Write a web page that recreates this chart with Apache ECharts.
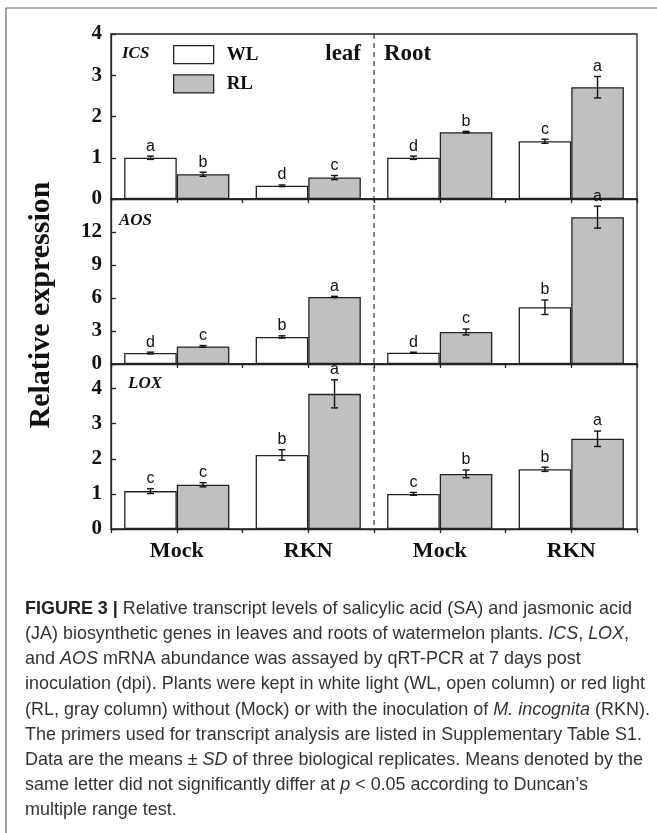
<!DOCTYPE html>
<html>
<head>
<meta charset="utf-8">
<script src="https://cdn.jsdelivr.net/npm/echarts@6/dist/echarts.min.js"></script>
<style>
  html, body { margin: 0; padding: 0; background: #fff; }
  #main { width: 657px; height: 833px; }
</style>
</head>
<body>
<div id="main"></div>
<script>
// groups on the x axis (leaf: Mock, RKN | root: Mock, RKN)
const categories = ["Mock", "RKN", "Mock", "RKN"];

// ICS
const icsWL = [1.0, 0.32, 1.0, 1.4];
const icsWLErr = [0.04, 0.02, 0.04, 0.05];
const icsRL = [0.6, 0.52, 1.62, 2.71];
const icsRLErr = [0.05, 0.05, 0.02, 0.26];
const icsWLLetters = ["a", "d", "d", "c"];
const icsRLLetters = ["b", "c", "b", "a"];

// AOS
const aosWL = [1.0, 2.46, 1.02, 5.16];
const aosWLErr = [0.08, 0.1, 0.05, 0.66];
const aosRL = [1.6, 6.1, 2.91, 13.35];
const aosRLErr = [0.08, 0.05, 0.27, 1.0];
const aosWLLetters = ["d", "b", "d", "b"];
const aosRLLetters = ["c", "a", "c", "a"];

// LOX
const loxWL = [1.08, 2.11, 1.0, 1.7];
const loxWLErr = [0.07, 0.15, 0.04, 0.06];
const loxRL = [1.26, 3.85, 1.57, 2.57];
const loxRLErr = [0.06, 0.4, 0.11, 0.22];
const loxWLLetters = ["c", "b", "c", "b"];
const loxRLLetters = ["c", "a", "b", "a"];

// y axis ranges per panel
const yMax = [4, 15, 4.7];
const yStep = [1, 3, 1];
const panelNames = ["ICS", "AOS", "LOX"];

const SERIF = "'Liberation Serif', 'Times New Roman', serif";
const SANS = "'Liberation Sans', Arial, sans-serif";
const CAP = "'Liberation Sans', Arial, sans-serif";
const INK = "#222";

var chartDom = document.getElementById("main");
var myChart = echarts.init(chartDom);

const gridLeft = 111;
const gridRight = 20;
const gridTops = [34, 199, 364];
const gridH = 165;
const plotW = 657 - gridLeft - gridRight;

const panels = [
  { wl: icsWL, wle: icsWLErr, rl: icsRL, rle: icsRLErr, wlL: icsWLLetters, rlL: icsRLLetters },
  { wl: aosWL, wle: aosWLErr, rl: aosRL, rle: aosRLErr, wlL: aosWLLetters, rlL: aosRLLetters },
  { wl: loxWL, wle: loxWLErr, rl: loxRL, rle: loxRLErr, wlL: loxWLLetters, rlL: loxRLLetters },
];

const grids = [];
const xAxes = [];
const yAxes = [];
const series = [];

// error bar + letter drawn on top of each bar
function errSeries(p, vals, errs, letters, side) {
  return {
    type: "custom",
    xAxisIndex: p * 2,
    yAxisIndex: p,
    z: 5,
    silent: true,
    data: vals.map((v, i) => [i, v, errs[i]]),
    renderItem: function (params, api) {
      const x = api.value(0);
      const v = api.value(1);
      const e = api.value(2);
      const cw = api.size([1, 0])[0];
      const cx = api.coord([x, v])[0] + side * cw * 0.2;
      const top = api.coord([x, v + e])[1];
      const bot = api.coord([x, v - e])[1];
      const s = { stroke: "#111", lineWidth: 1.4 };
      return {
        type: "group",
        children: [
          { type: "line", shape: { x1: cx, y1: top, x2: cx, y2: bot }, style: s },
          { type: "line", shape: { x1: cx - 3.5, y1: top, x2: cx + 3.5, y2: top }, style: s },
          { type: "line", shape: { x1: cx - 3.5, y1: bot, x2: cx + 3.5, y2: bot }, style: s },
          {
            type: "text",
            style: {
              x: cx,
              y: top - 2,
              text: letters[params.dataIndex],
              align: "center",
              verticalAlign: "bottom",
              font: "16px " + SANS,
              fill: "#111",
            },
          },
        ],
      };
    },
  };
}

for (let p = 0; p < 3; p++) {
  const d = panels[p];
  grids.push({
    left: gridLeft,
    right: gridRight,
    top: gridTops[p],
    height: gridH,
    show: true,
    borderColor: INK,
    borderWidth: 1.3,
    backgroundColor: "transparent",
  });
  // main category axis (bars + labels)
  xAxes.push({
    type: "category",
    gridIndex: p,
    position: "bottom",
    data: categories,
    axisLine: { lineStyle: { color: INK, width: 1.3 } },
    axisTick: { show: false },
    axisLabel: {
      show: p === 2,
      fontFamily: SERIF,
      fontWeight: "bold",
      fontSize: 22,
      color: "#111",
      margin: 11,
    },
  });
  // tick-only axis: ticks at group edges and centres
  xAxes.push({
    type: "category",
    gridIndex: p,
    position: "bottom",
    data: ["", "", "", "", "", "", "", ""],
    axisLine: { show: false },
    axisTick: { show: true, interval: 0, length: 4, lineStyle: { color: INK, width: 1.3 } },
    axisLabel: { show: false },
  });
  yAxes.push({
    type: "value",
    gridIndex: p,
    min: 0,
    max: yMax[p],
    interval: yStep[p],
    splitLine: { show: false },
    axisLine: { show: true, lineStyle: { color: INK, width: 1.3 } },
    axisTick: { show: true, inside: true, length: 5, lineStyle: { color: INK, width: 1.3 } },
    axisLabel: {
      showMaxLabel: p === 0,
      formatter: function (v) {
        return v > yMax[p] - 0.5 && p > 0 ? "" : String(v);
      },
      fontFamily: SERIF,
      fontWeight: "bold",
      fontSize: 21,
      color: "#111",
      margin: 9,
    },
  });
  series.push({
    name: "WL",
    type: "bar",
    xAxisIndex: p * 2,
    yAxisIndex: p,
    data: d.wl,
    barGap: "0%",
    barCategoryGap: "20%",
    itemStyle: { color: "#ffffff", borderColor: INK, borderWidth: 1.3 },
  });
  series.push({
    name: "RL",
    type: "bar",
    xAxisIndex: p * 2,
    yAxisIndex: p,
    data: d.rl,
    barGap: "0%",
    barCategoryGap: "20%",
    itemStyle: { color: "#c0c0c0", borderColor: INK, borderWidth: 1.3 },
  });
  series.push(errSeries(p, d.wl, d.wle, d.wlL, -1));
  series.push(errSeries(p, d.rl, d.rle, d.rlL, 1));
}

const captionLines = [
  "{b|FIGURE 3 |} Relative transcript levels of salicylic acid (SA) and jasmonic acid",
  "(JA) biosynthetic genes in leaves and roots of watermelon plants. {i|ICS}, {i|LOX},",
  "and {i|AOS} mRNA abundance was assayed by qRT-PCR at 7 days post",
  "inoculation (dpi). Plants were kept in white light (WL, open column) or red light",
  "(RL, gray column) without (Mock) or with the inoculation of {i|M. incognita} (RKN).",
  "The primers used for transcript analysis are listed in Supplementary Table S1.",
  "Data are the means ± {i|SD} of three biological replicates. Means denoted by the",
  "same letter did not significantly differ at {i|p} < 0.05 according to Duncan’s",
  "multiple range test.",
];

// squeeze the caption horizontally so line 1 spans the same width as the original
const ctx = document.createElement("canvas").getContext("2d");
ctx.font = "bold 19px " + CAP;
let w1 = ctx.measureText("FIGURE 3 |").width;
ctx.font = "19px " + CAP;
w1 += ctx.measureText(" Relative transcript levels of salicylic acid (SA) and jasmonic acid").width;
const capScale = 607 / w1;

const dashX = gridLeft + plotW / 2;

option = {
  animation: false,
  backgroundColor: "#ffffff",
  grid: grids,
  xAxis: xAxes,
  yAxis: yAxes,
  legend: {
    data: ["WL", "RL"],
    orient: "vertical",
    left: 173,
    top: 45,
    padding: 0,
    itemWidth: 40,
    itemHeight: 18,
    itemGap: 10,
    icon: "rect",
    itemStyle: { borderColor: INK, borderWidth: 1.3 },
    textStyle: {
      fontFamily: SERIF,
      fontWeight: "bold",
      fontSize: 19,
      color: "#111",
      padding: [0, 0, 0, 8],
    },
    selectedMode: false,
  },
  series: series,
  graphic: [
    // outer frame (top + left edges)
    { type: "line", shape: { x1: 6, y1: 8, x2: 657, y2: 8 }, style: { stroke: "#666", lineWidth: 1.2 } },
    { type: "line", shape: { x1: 6, y1: 8, x2: 6, y2: 833 }, style: { stroke: "#666", lineWidth: 1.2 } },
    // leaf / root divider
    {
      type: "line",
      z: 10,
      shape: { x1: dashX, y1: gridTops[0], x2: dashX, y2: gridTops[2] + gridH },
      style: { stroke: INK, lineWidth: 1.1, lineDash: [5, 4] },
    },
    {
      type: "text",
      style: { x: 361, y: 54, text: "leaf", align: "right", verticalAlign: "middle", font: "bold 23px " + SERIF, fill: "#111" },
    },
    {
      type: "text",
      style: { x: 384, y: 54, text: "Root", align: "left", verticalAlign: "middle", font: "bold 23px " + SERIF, fill: "#111" },
    },
    {
      type: "text",
      style: { x: 122, y: 54, text: panelNames[0], verticalAlign: "middle", font: "italic bold 17px " + SERIF, fill: "#111" },
    },
    {
      type: "text",
      style: { x: 119, y: 221, text: panelNames[1], verticalAlign: "middle", font: "italic bold 17px " + SERIF, fill: "#111" },
    },
    {
      type: "text",
      style: { x: 128, y: 384, text: panelNames[2], verticalAlign: "middle", font: "italic bold 17px " + SERIF, fill: "#111" },
    },
    {
      type: "text",
      x: 41,
      y: 305,
      rotation: Math.PI / 2,
      style: {
        text: "Relative expression",
        align: "center",
        verticalAlign: "middle",
        font: "bold 30px " + SERIF,
        fill: "#111",
      },
    },
    {
      type: "text",
      x: 25,
      y: 596,
      scaleX: capScale,
      style: {
        text: captionLines.join("\n"),
        font: "19px " + CAP,
        fill: "#333",
        lineHeight: 25.2,
        rich: {
          b: { fontFamily: CAP, fontWeight: "bold", fontSize: 19, lineHeight: 25.2, fill: "#222" },
          i: { fontFamily: CAP, fontStyle: "italic", fontSize: 19, lineHeight: 25.2, fill: "#333" },
        },
      },
    },
  ],
};

option && myChart.setOption(option);
</script>
</body>
</html>
